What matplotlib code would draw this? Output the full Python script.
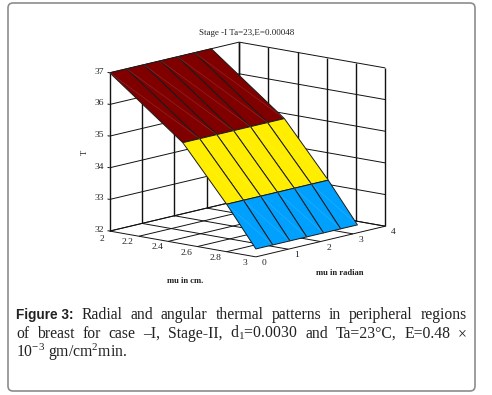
import matplotlib
matplotlib.use('Agg')
import matplotlib.pyplot as plt
from matplotlib.patches import FancyBboxPatch
from mpl_toolkits.mplot3d import proj3d
import numpy as np

plt.rcParams['font.family'] = ['Liberation Serif', 'DejaVu Serif']
plt.rcParams['mathtext.fontset'] = 'custom'
plt.rcParams['mathtext.rm'] = 'Liberation Serif'
plt.rcParams['mathtext.default'] = 'regular'

# values
radius = [2.0, 2.5, 2.8, 3.0]
angle = [0.0, 0.52, 1.05, 1.57, 2.09, 2.62, 3.14]
temp_at_radius = [37.0, 35.2, 33.5, 32.25]
band_colors = ['#800000', '#FFEE00', '#00A0FF']

x_ticks = [2, 2.2, 2.4, 2.6, 2.8, 3]
x_labels = ['2', '2.2', '2.4', '2.6', '2.8', '3']
y_ticks = [0, 1, 2, 3, 4]
z_ticks = [32, 33, 34, 35, 36, 37]

title = 'Stage -I Ta=23,E=0.00048'
xlabel = 'mu in cm.'
ylabel = 'mu in radian'
zlabel = 'T'
caption = [
    ['Figure 3:', 'Radial', 'and', 'angular', 'thermal', 'patterns', 'in', 'peripheral', 'regions'],
    ['of', 'breast', 'for', 'case', '\u2013I,', 'Stage-II,', 'd$_1$=0.0030', 'and', 'Ta=23\u00b0C,', 'E=0.48', '\u00d7'],
    ['10$^{-3}$', 'gm/cm$^2$min.'],
]

W, H = 492, 395
fig = plt.figure(figsize=(W / 100, H / 100), dpi=100)

# panel frame
bg = fig.add_axes([0, 0, 1, 1])
bg.set_xlim(0, W)
bg.set_ylim(H, 0)
bg.axis('off')
bg.add_patch(FancyBboxPatch((11, 6), 461, 382, boxstyle='round,pad=3,rounding_size=5',
                            fc='white', ec='#8c8c8c', lw=1.2))

# 3d box, centred on the plot in the picture
size = 311
cx, cy = 243.3, 153.7
ax = fig.add_axes([(cx - size / 2) / W, 1 - (cy + size / 2) / H, size / W, size / H],
                  projection='3d', computed_zorder=False)
ax.patch.set_alpha(0)
ax.set_proj_type('ortho')
ax.view_init(elev=11.8, azim=-49.2)
ax.set_box_aspect((194, 199, 162.5), zoom=1.0)
ax.set_xlim(2, 3)
ax.set_ylim(0, 4)
ax.set_zlim(32, 37)
ax.set_axis_off()


def line(xs, ys, zs, lw=0.7, color='#111111', zorder=1):
    ax.plot(xs, ys, zs, color=color, lw=lw, zorder=zorder, solid_capstyle='butt')


# walls and floor
for z in z_ticks:
    line([2, 2], [0, 4], [z, z])
    line([2, 3], [4, 4], [z, z])
for y in y_ticks:
    line([2, 2], [y, y], [32, 37], lw=1.0)
    line([2, 3], [y, y], [32, 32])
for x in x_ticks:
    line([x, x], [4, 4], [32, 37], lw=1.0)
    line([x, x], [0, 4], [32, 32])

# surface
X, Y = np.meshgrid(radius, angle, indexing='ij')
Z = np.repeat(np.array(temp_at_radius)[:, None], len(angle), axis=1)
faces = np.empty((len(radius) - 1, len(angle) - 1, 4))
for i, c in enumerate(band_colors):
    faces[i, :] = matplotlib.colors.to_rgba(c)
ax.plot_surface(X, Y, Z, rstride=1, cstride=1, facecolors=faces, shade=False,
                edgecolor='#1a1a1a', linewidth=0.7, antialiased=True, zorder=2)

# faint seams of the triangulated strips
for i in range(len(radius) - 1):
    for j in range(len(angle) - 1):
        ax.plot([radius[i], radius[i + 1]], [angle[j], angle[j + 1]],
                [temp_at_radius[i], temp_at_radius[i + 1]],
                color='white', alpha=0.14, lw=0.5, zorder=3)


def tick_text(x, y, z, s, dx, dy, **kw):
    # text placed a few pixels away from a 3d point
    px, py, _ = proj3d.proj_transform(x, y, z, ax.get_proj())
    ax.annotate(s, xy=(px, py), xycoords='data', xytext=(dx, -dy), textcoords='offset pixels',
                ha='center', va='center', fontsize=6.8, color='#222222', annotation_clip=False, **kw)


for x, s in zip(x_ticks, x_labels):
    if x == 2:
        tick_text(x, 0, 32, s, -8, 8)
    else:
        tick_text(x, 0, 32, s, -11, 6)
for y in y_ticks:
    tick_text(3, y, 32, str(y), 8, 6)
for z in z_ticks:
    tick_text(2, 0, z, str(z), -10, -1)
    line([2, 1.985], [0, 0], [z, z])

bg.text(246.5, 33, title, ha='center', va='center', fontsize=6.5, color='#222222')
bg.text(185, 281, xlabel, ha='center', va='center', fontsize=6.2, fontweight='bold', color='#222222')
bg.text(340, 273, ylabel, ha='center', va='center', fontsize=6.2, fontweight='bold', color='#222222')
bg.text(85, 152, zlabel, ha='center', va='center', fontsize=6.2, rotation=90, color='#222222')

# caption, justified by hand
renderer = fig.canvas.get_renderer()
baselines = [319, 338, 357]
left, right = 16, 467
for k, (words, base) in enumerate(zip(caption, baselines)):
    items = []
    for w in words:
        bold = w.startswith('Figure')
        family = 'Liberation Sans' if bold else 'Liberation Serif'
        items.append(bg.text(left, base, w, fontsize=11.3 if not bold else 9.8, va='baseline', ha='left',
                             color='#222222', family=family, fontweight='bold' if bold else 'normal'))
    widths = [t.get_window_extent(renderer).width for t in items]
    gap = (right - left - sum(widths)) / (len(items) - 1) if k < 2 else 3
    pos = left
    for t, wd in zip(items, widths):
        t.set_x(pos)
        pos += wd + gap

fig.savefig('out.png', dpi=100)
